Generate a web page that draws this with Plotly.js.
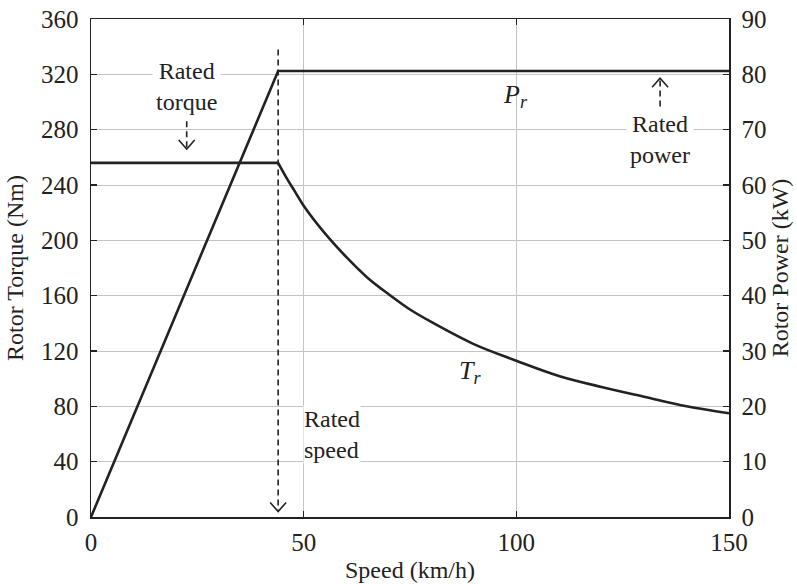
<!DOCTYPE html>
<html>
<head>
<meta charset="utf-8">
<script src="https://cdn.plot.ly/plotly-3.0.1.min.js"></script>
<style>
  html, body { margin: 0; padding: 0; background: #fff; }
  #chart { width: 797px; height: 584px; }
</style>
</head>
<body>
<div id="chart"></div>
<script>
// Rotor torque (Nm) against vehicle speed (km/h)
const torqueSpeed = [0, 44, 46, 48, 50, 55, 60, 65, 70, 75, 80, 90, 100, 110, 120, 130, 140, 150];
const torqueNm    = [256, 256, 245, 235, 225, 205, 188, 173, 161, 150, 141, 125, 113, 102, 94, 87, 80, 75];

// Rotor power (kW) against vehicle speed (km/h)
const powerSpeed = [0, 44, 150];
const powerKW    = [0, 80.6, 80.6];

// Rated operating point
const ratedSpeed = 44;

// Axis ticks
const torqueTicks = [0, 40, 80, 120, 160, 200, 240, 280, 320, 360];
const powerTicks  = [0, 10, 20, 30, 40, 50, 60, 70, 80, 90];
const speedTicks  = [0, 50, 100, 150];

const FONT = '"Liberation Serif", "Times New Roman", Times, serif';
const INK = '#222';

// constant-torque region drawn straight, field-weakening region smoothed
const kneeIdx = torqueSpeed.indexOf(ratedSpeed);
const traces = [
  {
    x: torqueSpeed.slice(0, kneeIdx + 1), y: torqueNm.slice(0, kneeIdx + 1),
    type: 'scatter', mode: 'lines',
    line: { color: INK, width: 2.6 }, yaxis: 'y', hoverinfo: 'skip'
  },
  {
    x: torqueSpeed.slice(kneeIdx), y: torqueNm.slice(kneeIdx),
    type: 'scatter', mode: 'lines',
    line: { color: INK, width: 2.6, shape: 'spline', smoothing: 1 }, yaxis: 'y', hoverinfo: 'skip'
  },
  {
    x: powerSpeed, y: powerKW, type: 'scatter', mode: 'lines',
    line: { color: INK, width: 2.6 }, yaxis: 'y2', hoverinfo: 'skip'
  }
];

// dashed arrow shaft + open chevron head (pixel-sized, anchored at the tip)
function dashedArrow(x, yFrom, yTip, yref, up) {
  const s = up ? -1 : 1;
  return [
    { type: 'line', xref: 'x', yref: yref, x0: x, x1: x, y0: yFrom, y1: yTip,
      line: { color: INK, width: 1.6, dash: '6px,4px' } },
    { type: 'path', xref: 'x', yref: yref, xsizemode: 'pixel', ysizemode: 'pixel',
      xanchor: x, yanchor: yTip,
      path: `M -8,${9 * s} L 0,0 L 8,${9 * s}`,
      line: { color: INK, width: 1.6 } }
  ];
}

const shapes = [
  ...dashedArrow(ratedSpeed, 338, 4, 'y', false),
  ...dashedArrow(22.5, 286, 266, 'y', false),
  ...dashedArrow(133.8, 74.2, 79.3, 'y2', true)
];

const labelFont = { family: FONT, size: 24, color: INK };

const annotations = [
  { x: 22.5, y: 311.5, xref: 'x', yref: 'y', text: 'Rated<br>torque', showarrow: false,
    font: labelFont, bgcolor: '#fff', borderpad: 3, align: 'center' },
  { x: 133.8, y: 68.2, xref: 'x', yref: 'y2', text: 'Rated<br>power', showarrow: false,
    font: labelFont, bgcolor: '#fff', borderpad: 3, align: 'center' },
  { x: 49.8, y: 60, xref: 'x', yref: 'y', text: 'Rated<br>speed', showarrow: false,
    xanchor: 'left', font: labelFont, bgcolor: '#fff', borderpad: 0, align: 'left' },
  { x: 99.7, y: 304.5, xref: 'x', yref: 'y', text: '<i>P<sub>r</sub></i>', showarrow: false,
    font: { family: FONT, size: 26, color: INK } },
  { x: 89, y: 105, xref: 'x', yref: 'y', text: '<i>T<sub>r</sub></i>', showarrow: false,
    font: { family: FONT, size: 26, color: INK } }
];

const axisCommon = {
  showline: true, linecolor: INK, linewidth: 1.5,
  ticks: 'inside', ticklen: 6, tickwidth: 1.2, tickcolor: INK,
  showgrid: true, gridcolor: '#c4c4c4', gridwidth: 1,
  zeroline: false, tickfont: { family: FONT, size: 25, color: INK },
  fixedrange: true
};

const titleFont = { family: FONT, size: 24, color: INK };

const layout = {
  width: 797, height: 584,
  margin: { l: 91, r: 68, t: 19, b: 67 },
  paper_bgcolor: '#fff', plot_bgcolor: '#fff',
  showlegend: false,
  font: { family: FONT, color: INK },
  xaxis: Object.assign({}, axisCommon, {
    range: [0, 150], tickvals: speedTicks, mirror: 'ticks',
    ticklabelstandoff: 2,
    title: { text: 'Speed (km/h)', font: titleFont, standoff: 6 }
  }),
  yaxis: Object.assign({}, axisCommon, {
    range: [0, 360], tickvals: torqueTicks, mirror: true,
    ticklabelstandoff: 6,
    title: { text: 'Rotor Torque (Nm)', font: titleFont, standoff: 10 }
  }),
  yaxis2: Object.assign({}, axisCommon, {
    range: [0, 90], tickvals: powerTicks, overlaying: 'y', side: 'right',
    showgrid: false, ticklabelstandoff: 6,
    title: { text: 'Rotor Power (kW)', font: titleFont, standoff: 4 }
  }),
  shapes: shapes,
  annotations: annotations
};

Plotly.newPlot('chart', traces, layout, { staticPlot: true, displayModeBar: false });
</script>
</body>
</html>
